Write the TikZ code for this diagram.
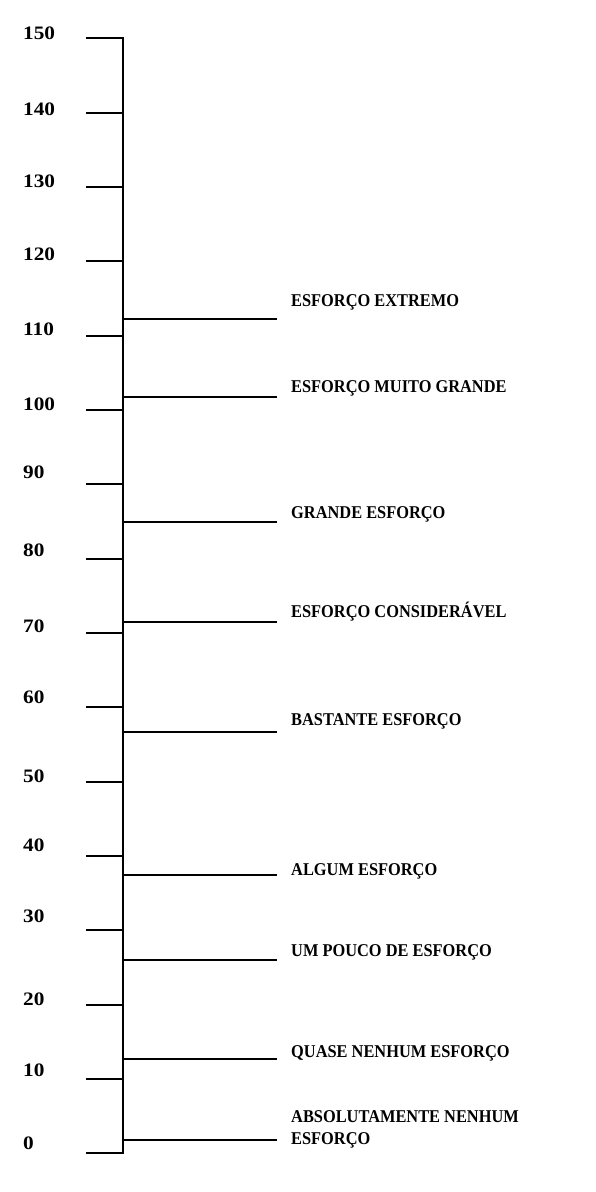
\documentclass[tikz,border=0pt]{standalone}
\usepackage{fontspec}
\usepackage{graphicx}
\setmainfont{Liberation Serif}
\begin{document}
\begin{tikzpicture}[x=1pt,y=-1pt,
  axisline/.style={line width=2pt, line join=miter},
  levelline/.style={line width=2pt},
  numlab/.style={anchor=base west, inner sep=0pt, font=\fontsize{19}{21}\selectfont\bfseries},
  lvllab/.style={anchor=base west, inner sep=0pt, font=\fontsize{18}{20}\selectfont\bfseries}]
\useasboundingbox[fill=white] (0,0) rectangle (595,1192);
% axis with end ticks
\coordinate (topL) at (86,38);
\coordinate (top) at (123,38);
\coordinate (bot) at (123,1153);
\coordinate (botL) at (86,1153);
\draw[axisline] (topL) -- (top) -- (bot) -- (botL);
% inner ticks
\foreach \k/\ty in {1/113,2/187,3/261,4/336,5/410,6/484,7/559,8/633,9/707,10/782,11/856,12/930,13/1005,14/1079}{
  \coordinate (tl\k) at (86,\ty);
  \coordinate (tr\k) at (123,\ty);
  \draw[axisline] (tl\k) -- (tr\k);
}
% numbers
\foreach \v/\b in {150/39,140/115,130/187,120/260,110/335,100/410,90/478,80/556.7,70/632.3,60/703.3,50/782.7,40/851,30/922.3,20/1005,10/1076.7,0/1149.3}{
  \node[numlab] (n\v) at (23,\b) {\scalebox{1.12}[1]{\v}};
}
% level lines and labels
\foreach \name/\ly/\tb/\txt in {
  extremo/319/306.7/ESFORÇO EXTREMO,
  muito/397/392.7/ESFORÇO MUITO GRANDE,
  grande/522/518.3/GRANDE ESFORÇO,
  consid/622/617.3/ESFORÇO CONSIDERÁVEL,
  bastante/732/725.7/BASTANTE ESFORÇO,
  algum/875/875/ALGUM ESFORÇO,
  pouco/960/956.7/UM POUCO DE ESFORÇO,
  quase/1059/1057.3/QUASE NENHUM ESFORÇO,
  absol/1140/1122.7/ABSOLUTAMENTE NENHUM}{
  \coordinate (\name A) at (123,\ly);
  \coordinate (\name B) at (277,\ly);
  \draw[levelline] (\name A) -- (\name B);
  \node[lvllab] (\name T) at (291,\tb) {\scalebox{0.91}[1]{\txt}};
}
\node[lvllab] (absolT2) at (291,1144.3) {\scalebox{0.91}[1]{ESFORÇO}};
\end{tikzpicture}
\end{document}
